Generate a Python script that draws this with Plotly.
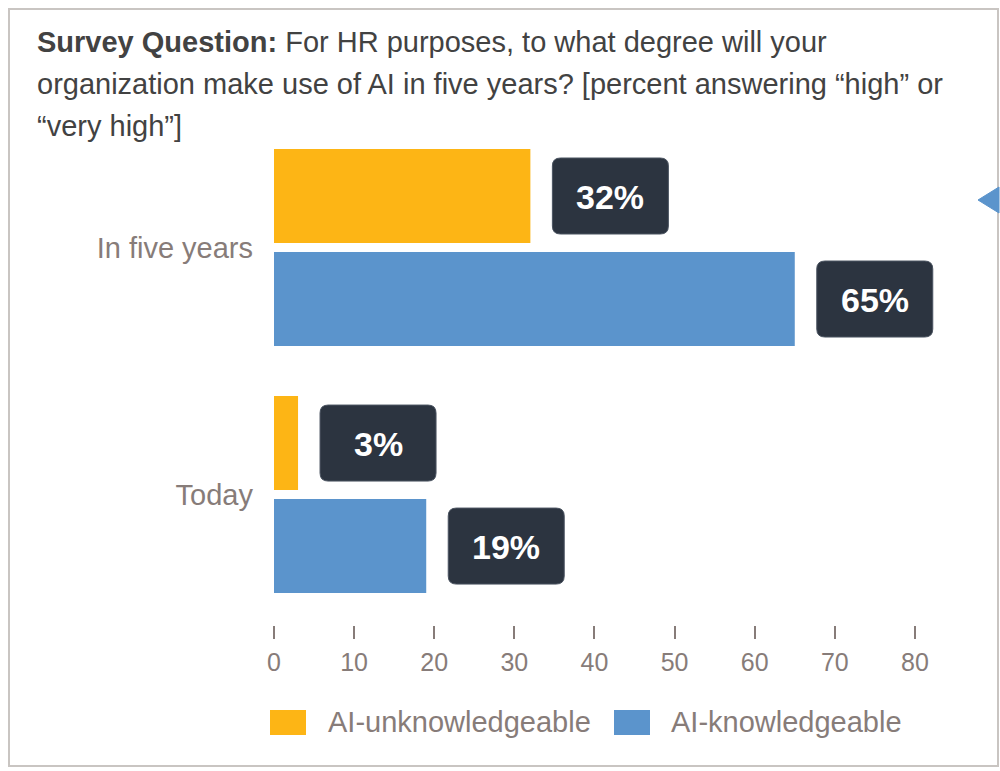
import plotly.graph_objects as go

# Survey results: share answering "high" or "very high"
categories = ["Today", "In five years"]
unknowledgeable = [3, 32]
knowledgeable = [19, 65]
x_ticks = [0, 10, 20, 30, 40, 50, 60, 70, 80]
series_names = ["AI-unknowledgeable", "AI-knowledgeable"]
title_lines = [
    "<b>Survey Question:</b> For HR purposes, to what degree will your",
    "organization make use of AI in five years? [percent answering \u201chigh\u201d or",
    "\u201cvery high\u201d]",
]

YELLOW = "#FDB515"
BLUE = "#5B94CC"
BOX = "#2C3440"
AXIS_GREY = "#877C79"
TITLE_GREY = "#424242"
FONT = "Liberation Sans, Arial, sans-serif"

# x range runs a little past the last tick so the value boxes are not clipped
X_MAX = 84
W, H = 1000, 771
L, T, B = 274, 124, 146
PX_PER_UNIT = 641 / 80
R = W - L - round(X_MAX * PX_PER_UNIT)
PW, PH = W - L - R, H - T - B

BARGAP = 0.166
GROUPGAP = 0.087


def px(x):
    return (x - L) / PW


def py(y):
    return 1 - (y - T) / PH


ypos = list(range(len(categories)))
slot = (1 - BARGAP) / 2
off = slot / 2

fig = go.Figure()
# blue first so it sits at the lower slot of each group
fig.add_trace(go.Bar(
    y=ypos, x=knowledgeable, orientation="h", name=series_names[1],
    marker=dict(color=BLUE, line=dict(width=0)), showlegend=False,
))
fig.add_trace(go.Bar(
    y=ypos, x=unknowledgeable, orientation="h", name=series_names[0],
    marker=dict(color=YELLOW, line=dict(width=0)), showlegend=False,
))

shapes = []
annotations = []

# rounded value boxes next to each bar end
bx0, bx1, bh, rad = 22, 138, 38, 8
box_path = (
    f"M {bx0 + rad},{-bh} L {bx1 - rad},{-bh} Q {bx1},{-bh} {bx1},{-bh + rad} "
    f"L {bx1},{bh - rad} Q {bx1},{bh} {bx1 - rad},{bh} "
    f"L {bx0 + rad},{bh} Q {bx0},{bh} {bx0},{bh - rad} "
    f"L {bx0},{-bh + rad} Q {bx0},{-bh} {bx0 + rad},{-bh} Z"
)
for i in ypos:
    for val, yy in ((unknowledgeable[i], i + off), (knowledgeable[i], i - off)):
        shapes.append(dict(
            type="path", xref="x", yref="y", xsizemode="pixel", ysizemode="pixel",
            xanchor=val, yanchor=yy, path=box_path,
            fillcolor=BOX, line=dict(color="#4B5461", width=1), layer="above",
        ))
        annotations.append(dict(
            x=val, y=yy, xref="x", yref="y", text=f"<b>{val}%</b>",
            showarrow=False, xanchor="center", yanchor="middle",
            xshift=(bx0 + bx1) / 2, yshift=-1,
            font=dict(family=FONT, size=34, color="white"),
        ))

# title lines
for txt, yc in zip(title_lines, [42, 84, 126]):
    annotations.append(dict(
        x=px(35), y=py(yc), xref="paper", yref="paper", text=txt,
        showarrow=False, xanchor="left", yanchor="middle", align="left",
        font=dict(family=FONT, size=29, color=TITLE_GREY),
    ))

# legend
for name, col, sx, tx in ((series_names[0], YELLOW, 270, 326), (series_names[1], BLUE, 614, 669)):
    shapes.append(dict(
        type="rect", xref="paper", yref="paper",
        x0=px(sx), x1=px(sx + 36), y0=py(735), y1=py(710),
        fillcolor=col, line=dict(width=0),
    ))
    annotations.append(dict(
        x=px(tx), y=py(722), xref="paper", yref="paper", text=name,
        showarrow=False, xanchor="left", yanchor="middle",
        font=dict(family=FONT, size=29, color=AXIS_GREY),
    ))

# outer frame
shapes.append(dict(
    type="rect", xref="paper", yref="paper",
    x0=px(9), x1=px(998), y0=py(766), y1=py(9),
    line=dict(color="#C9C5C2", width=2), fillcolor="rgba(0,0,0,0)", layer="below",
))
# pointer at the right edge
shapes.append(dict(
    type="path", xref="paper", yref="paper",
    path=f"M {px(978)},{py(200)} L {px(999)},{py(187)} L {px(999)},{py(213)} Z",
    fillcolor=BLUE, line=dict(color=BLUE, width=1),
))

fig.update_layout(
    width=W, height=H,
    margin=dict(l=L, r=R, t=T, b=B, pad=0),
    paper_bgcolor="white", plot_bgcolor="white",
    barmode="group", bargap=BARGAP, bargroupgap=GROUPGAP,
    shapes=shapes, annotations=annotations,
    font=dict(family=FONT),
    xaxis=dict(
        range=[0, X_MAX], tickvals=x_ticks,
        ticks="outside", ticklen=13, tickwidth=1.5, tickcolor=AXIS_GREY,
        ticklabelstandoff=2,
        showgrid=False, zeroline=False, showline=False,
        tickfont=dict(family=FONT, size=25, color=AXIS_GREY),
        fixedrange=True,
    ),
    yaxis=dict(
        range=[-0.528, 1.5], tickvals=ypos, ticktext=categories,
        ticks="", showgrid=False, zeroline=False, showline=False,
        ticklabelstandoff=20,
        tickfont=dict(family=FONT, size=29, color=AXIS_GREY),
        fixedrange=True,
    ),
)

fig.write_html("out.html")
